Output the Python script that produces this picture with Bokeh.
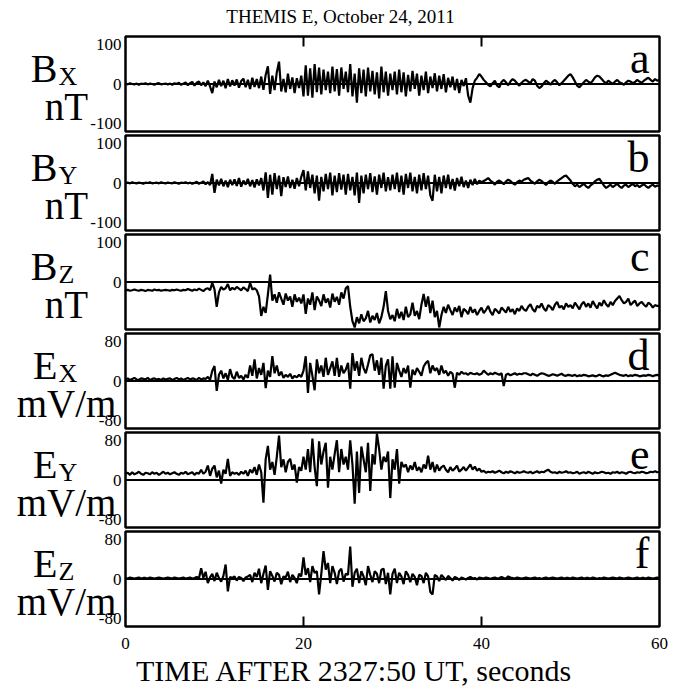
import numpy as np
from bokeh.plotting import figure
from bokeh.layouts import column, row
from bokeh.models import Span, Range1d
from bokeh.core.properties import value
from bokeh.embed import file_html
from bokeh.resources import INLINE

# ---------------- data ----------------
time_s = np.linspace(0, 60, 241)   # 0.25 s samples, seconds after 2327:50 UT

bx = [1, -1, 2, 0, -1, 1, -2, 1, 0, 2, -1, 1, 0, -2, 1, 2, -1, 0, 1, -1,
      1, -2, 2, 0, 3, -2, 1, 4, -3, 2, 5, -4, 3, 6, -3, 4, -5, 8, -6, -22,
      6, -8, 10, -5, 8, -10, 12, -6, 9, -4, 11, -9, 7, 13, -8, 10, -12, 15, -7, 12,
      -10, 18, -14, 22, 43, -24, 20, -15, 28, 54, -18, 12, -20, 25, -12, 16, -22, 14, -10, 20,
      -30, 45, -28, 38, -33, 48, -20, 40, -25, 35, -15, 30, -22, 42, -18, 36, -28, 40, -12, 30,
      -20, 48, -30, 25, -45, 38, -22, 35, -30, 40, -18, 32, -25, 28, -35, 42, -20, 30, -28, 25,
      -15, 30, -25, 35, -20, 28, -30, 22, -18, 32, -12, 25, -28, 20, -15, 30, -22, 18, -10, 26,
      -18, 20, -12, 24, -20, 15, -8, 18, -15, 12, -22, 10, -5, 14, -28, -45, -10, 8, 15, 24,
      18, 10, 4, -2, -6, 2, 8, -4, -8, 5, 10, 4, -3, 6, 12, 8, 2, -4, 3, 8,
      10, 6, 2, 12, 8, -4, -10, -6, 2, 8, 4, -2, 6, 10, 4, -3, 2, 8, 14, 20,
      24, 16, 6, -4, -8, -2, 4, 10, 6, 2, 8, 16, 20, 18, 12, 6, 2, 8, 4, 0,
      6, 10, 4, 2, -2, 4, 8, 6, 2, 5, 10, 6, 3, 8, 12, 15, 10, 6, 12, 8,
      10]

by = [0, 1, -1, 2, 0, -1, 1, 0, -2, 1, 0, 2, -1, 0, 1, -1, 2, 0, -1, 1,
      0, -1, 2, 0, -2, 1, 0, 2, -1, 1, -2, 0, 3, -2, 1, 4, -3, 2, -5, 22,
      -24, 8, -6, 10, -8, 6, -10, 8, -5, 9, -7, 12, -9, 6, -4, 10, -8, 7, -11, 9,
      -6, 12, -18, 26, -36, 20, -28, 24, -15, 18, -32, 14, -10, 16, -12, 8, -14, 12, -8, 15,
      31, -18, 28, -12, 20, -25, 18, -43, 15, -20, 22, -15, 25, -30, 18, -22, 24, -16, 20, -28,
      22, -18, 15, -30, 25, -48, 18, -25, 20, -15, 24, -22, 16, -28, 20, -12, 25, -20, 14, -18,
      20, -15, 25, -22, 18, -28, 22, -12, 25, -20, 15, -25, 20, -18, 24, -15, 18, -30, -43, 20,
      -20, 15, -25, 18, -12, 20, -15, 10, -18, 12, -8, 15, -10, 6, -12, 8, -5, 10, -3, 6,
      2, 5, 8, 12, 6, 2, -4, 3, 6, 2, -3, 4, 8, 5, 0, -4, 2, 6, 3, 8,
      10, 12, 6, 2, -2, 4, 8, 5, 0, -5, 2, 6, 3, -2, 4, 8, 12, 16, 18, 12,
      6, -2, -8, -4, -10, -6, -2, -8, -12, -6, -2, 4, 8, 10, 2, -6, -12, -8, -4, -10,
      -6, -2, -8, -12, -6, -4, -10, -6, -2, -8, -5, -10, -6, -3, -8, -12, -7, -4, -9, -6,
      -8]

bz = [-20, -19, -21, -20, -18, -20, -21, -19, -20, -22, -19, -20, -21, -18, -20, -19, -21, -20, -19, -20,
      -21, -19, -20, -18, -20, -21, -19, -20, -17, -19, -21, -18, -20, -16, -19, -22, -17, -15, -20, -2,
      -18, -60, -25, -12, -18, -15, -5, -20, -14, -18, -12, -16, -20, -13, -17, -22, -2, -18, -15, -20,
      -35, -82, -60, -75, -30, 18, -45, -30, -50, -25, -40, -55, -28, -45, -35, -60, -30, -48, -38, -52,
      -30, -77, -40, -55, -25, -68, -35, -45, -58, -30, -50, -40, -62, -28, -48, -36, -55, -25, -40, -15,
      -10, -60, -95, -110, -85, -100, -78, -95, -88, -70, -98, -82, -92, -75, -100, -85, -60, -22, -70, -90,
      -80, -95, -65, -88, -72, -92, -60, -85, -78, -50, -82, -70, -90, -55, -29, -60, -35, -75, -45, -85,
      -70, -110, -80, -60, -75, -55, -68, -80, -62, -72, -58, -85, -65, -70, -78, -60, -74, -66, -80, -70,
      -62, -75, -68, -58, -72, -80, -65, -70, -76, -62, -68, -74, -60, -72, -66, -78, -64, -70, -58, -66,
      -70, -60, -54, -66, -72, -58, -62, -52, -64, -70, -56, -60, -68, -55, -48, -62, -58, -66, -52, -60,
      -56, -64, -50, -58, -66, -54, -48, -60, -52, -62, -46, -56, -64, -50, -58, -44, -54, -60, -48, -56,
      -46, -40, -34, -44, -52, -48, -40, -56, -50, -45, -58, -52, -48, -55, -60, -50, -54, -62, -56, -58,
      -58]

ex = [3, 5, 2, 4, 6, 3, 2, 5, 4, 3, 6, 2, 4, 5, 3, 4, 2, 5, 3, 4,
      5, 2, 4, 6, 3, 5, 2, 4, 6, 3, 5, 4, 2, 6, 3, 5, 4, 8, 2, 20,
      29, -19, 12, 20, 5, 15, 2, 23, 8, 4, 18, 6, 10, 3, 12, 6, 30, 10, 42, 5,
      25, 12, 35, -14, 20, 8, 48, 15, 30, 10, 18, 6, 12, 8, 14, 5, 10, 7, 12, 8,
      20, 48, -23, 35, 10, -18, 42, 15, 30, 8, 45, 12, 25, 38, 10, 45, 8, 30, 15, 22,
      35, -15, 54, 20, 38, 10, 45, 25, 15, 32, 50, 52, 20, 40, 12, 45, -15, 30, 42, -15,
      48, -13, 35, 20, 8, 25, 15, 30, -13, 22, 12, 25, 18, 10, 28, 35, 39, 15, 30, 20,
      25, 12, 30, 15, 20, 10, 18, 14, -13, 16, 12, 18, 14, 15, 12, 16, 14, 13, 15, 12,
      14, 20, 16, 12, 15, 13, 16, 14, 12, 15, -10, 12, 14, 11, 13, 15, 12, 14, 13, 15,
      15, 13, 11, 14, 12, 10, 13, 15, 14, 12, 10, 11, 13, 12, 10, 12, 14, 11, 10, 12,
      11, 10, 12, 9, 11, 10, 12, 11, 9, 10, 11, 9, 10, 12, 10, 9, 11, 10, 12, 14,
      16, 14, 12, 11, 10, 12, 9, 11, 10, 12, 11, 9, 10, 11, 10, 12, 11, 9, 11, 12,
      10]

ey = [12, 14, 10, 15, 11, 13, 16, 12, 10, 14, 13, 11, 15, 12, 14, 10, 13, 16, 12, 14,
      11, 13, 15, 12, 10, 14, 12, 16, 11, 13, 15, 10, 14, 12, 20, 12, 16, 28, 8, 22,
      28, 5, 18, -7, 20, 12, 41, 8, 15, 12, 14, 10, 16, 12, 18, 8, 20, 14, 25, 10,
      30, 15, -44, 40, 66, 20, 35, 10, 45, 86, 25, 40, 15, 35, 41, 20, 30, -5, 25, 18,
      45, 20, 60, 15, 80, 25, -12, 75, 30, 55, 72, -15, 45, 20, 50, 77, 15, 60, 30, 45,
      20, 77, 30, -46, 55, -25, 65, 40, 15, 72, -21, 50, 30, 90, 60, 20, 45, 35, 55, -35,
      40, 20, 60, -7, 35, 25, 30, 15, 28, 20, 35, 18, 25, 15, 30, 22, 47, 20, 35, 15,
      30, 18, 25, 28, 20, 15, 25, 18, 22, 28, 16, 20, 25, 18, 24, 30, 20, 26, 18, 22,
      16, 18, 14, 16, 15, 17, 14, 16, 18, 15, 13, 16, 14, 17, 15, 13, 16, 14, 15, 17,
      15, 14, 16, 13, 15, 17, 14, 16, 15, 18, 20, 16, 14, 15, 13, 16, 14, 15, 17, 14,
      15, 13, 14, 16, 12, 14, 15, 13, 16, 14, 12, 15, 13, 14, 16, 15, 13, 14, 12, 15,
      14, 16, 13, 15, 14, 12, 15, 16, 14, 13, 15, 14, 16, 15, 13, 14, 16, 15, 17, 15,
      16]

ez = [2, 1, 3, 2, 1, 2, 3, 1, 2, 2, 1, 3, 2, 1, 2, 3, 2, 1, 2, 3,
      2, 1, 3, 2, 1, 2, 3, 1, 2, 3, 1, 2, 4, 1, 21, 2, 14, -8, 3, 10,
      -4, 12, 2, -5, 6, 28, -24, 4, 2, 5, -3, 4, 2, -4, 3, 5, 8, -6, 12, 4,
      20, -8, 10, 26, -21, 15, 6, -5, 12, 8, -10, 5, 3, 14, -6, 8, 2, -8, 10, 5,
      42, 8, 21, -6, 25, 12, 15, -30, 10, 54, 18, 31, -8, 25, 12, -10, 15, 20, -5, 10,
      8, 63, -15, 12, 20, -8, 15, 5, -12, 25, 8, -6, 15, 10, -8, 18, 20, -10, 12, -30,
      10, 20, -8, 12, 5, -10, 15, 8, -6, 10, 4, -12, 8, 6, -8, 12, 5, -25, -30, 8,
      5, -4, 8, 3, -2, 6, 2, -3, 4, 2, -2, 3, 1, -1, 2, 4, 1, 2, -1, 3,
      2, 1, 3, 2, 0, 2, 3, 1, 2, 4, 2, 1, 5, 3, 2, 1, 3, 2, 1, 2,
      3, 2, 1, 2, 3, 1, 2, 0, 2, 3, 1, 2, 3, 2, 1, 2, 3, 1, 2, 2,
      1, 3, 2, 1, 2, 3, 1, 2, 2, 1, 3, 2, 0, 2, 1, 3, 2, 1, 2, 3,
      2, 1, 3, 2, 1, 2, 3, 2, 1, 2, 3, 1, 2, 2, 1, 3, 2, 1, 2, 3,
      2]

b_ticks = [-100, 0, 100]
bz_ticks = [0, 100]
e_ticks = [-80, 0, 80]
x_ticks = [0, 20, 40, 60]
panel_letters = ["a", "b", "c", "d", "e", "f"]
components = ["B", "B", "B", "E", "E", "E"]
subscripts = ["X", "Y", "Z", "X", "Y", "Z"]
units = ["nT", "nT", "nT", "mV/m", "mV/m", "mV/m"]
series = [bx, by, bz, ex, ey, ez]
tick_sets = [b_ticks, b_ticks, bz_ticks, e_ticks, e_ticks, e_ticks]
limits = [115, 115, 115, 92, 92, 92]
title_text = "THEMIS E, October 24, 2011"
xlabel_text = "TIME AFTER 2327:50 UT, seconds"

# ---------------- layout (page pixels) ----------------
FONT = "Liberation Serif"
BASE_SHIFT = 0.34      # rendered alphabetic baseline sits this many em below the anchor
LABEL_W = 123
PANEL_BL = 2
FW = 534
PANEL_BR = 12
PANEL_W = PANEL_BL + FW + PANEL_BR
TOTAL_W = LABEL_W + PANEL_W
FH = 95
ROW_H = 99
TITLE_H = 34
XLAB_H = 60
row_top = [TITLE_H + k * ROW_H for k in range(6)]
frame_top = [r + 2 for r in row_top]
FRAME_LEFT = LABEL_W + PANEL_BL
XLAB_TOP = TITLE_H + 6 * ROW_H
SEC_PER_PX = 60.0 / FW


def yd(py, k):
    lim = limits[k]
    return lim - (py - frame_top[k]) / FH * (2 * lim)


def blank(width, height, xr, yr):
    f = figure(width=width, height=height, x_range=xr, y_range=yr,
               output_backend="svg", toolbar_location=None,
               x_axis_location=None, y_axis_location=None,
               min_border=0, min_border_left=0, min_border_right=0,
               min_border_top=0, min_border_bottom=0)
    f.grid.visible = False
    f.outline_line_color = None
    f.background_fill_color = "white"
    f.border_fill_color = "white"
    return f


def txt(f, x, page_baseline, conv, s, size, align):
    y = conv(page_baseline - BASE_SHIFT * size)
    f.text(x=[x], y=[y], text=[s], text_font=value(FONT), text_font_size=value(f"{size}px"),
           text_align=align, text_baseline="alphabetic", text_color="black")


def txt_mid(f, x, y, s, size, align):
    f.text(x=[x], y=[y], text=[s], text_font=value(FONT), text_font_size=value(f"{size}px"),
           text_align=align, text_baseline="middle", text_color="black")


# title strip (pixel coordinates, y downward)
title_fig = blank(TOTAL_W, TITLE_H, Range1d(0, TOTAL_W), Range1d(TITLE_H, 0))
txt(title_fig, 340, 22, lambda py: py, title_text, 19, "center")

rows = []
for k in range(6):
    lim = limits[k]
    upp = 2 * lim / FH
    T = frame_top[k]
    conv = (lambda kk: (lambda py: yd(py, kk)))(k)

    lf = blank(LABEL_W, ROW_H, Range1d(0, LABEL_W),
               Range1d(yd(row_top[k] + ROW_H, k), yd(row_top[k], k)))
    for tk in tick_sets[k]:
        txt_mid(lf, 121, tk, str(tk), 17, "right")
    txt(lf, 57, T + 45, conv, components[k], 40, "right")
    txt(lf, 58, T + 49, conv, subscripts[k], 26, "left")
    txt(lf, 66, T + 84, conv, units[k], 39, "center")

    p = figure(width=PANEL_W, height=ROW_H, x_range=Range1d(0, 60), y_range=Range1d(-lim, lim),
               output_backend="svg", toolbar_location=None,
               x_axis_location=None, y_axis_location=None,
               min_border_left=PANEL_BL, min_border_right=PANEL_BR,
               min_border_top=2, min_border_bottom=2)
    p.grid.visible = False
    p.background_fill_color = "white"
    p.border_fill_color = "white"
    p.outline_line_color = "black"
    p.outline_line_width = 2.5
    p.outline_line_alpha = 1.0

    p.add_layout(Span(location=0, dimension="width", line_color="black", line_width=2))
    p.line(time_s, series[k], line_color="black", line_width=2.2)

    inner = [t for t in x_ticks if 0 < t < 60]
    tick_len = 10 * upp
    if k == 0:
        p.segment(x0=inner, y0=[lim] * len(inner), x1=inner, y1=[lim - tick_len] * len(inner),
                  line_color="black", line_width=2)
    if k == 5:
        p.segment(x0=inner, y0=[-lim] * len(inner), x1=inner, y1=[-lim + tick_len] * len(inner),
                  line_color="black", line_width=2)

    txt(p, 60 - 10 * SEC_PER_PX, T + 37, conv, panel_letters[k], 44, "right")
    rows.append(row(lf, p, spacing=0))

# bottom strip: x in seconds (aligned with panels), y in pixels downward from strip top
x0_sec = -FRAME_LEFT * SEC_PER_PX
x1_sec = (TOTAL_W - FRAME_LEFT) * SEC_PER_PX
xl_fig = blank(TOTAL_W, XLAB_H, Range1d(x0_sec, x1_sec), Range1d(XLAB_H, 0))
for t in x_ticks:
    txt_mid(xl_fig, t, 15, str(t), 17, "center")
txt(xl_fig, (354 - FRAME_LEFT) * SEC_PER_PX, 680, lambda py: py - XLAB_TOP,
    xlabel_text, 30, "center")

layout = column(title_fig, *rows, xl_fig, spacing=0)
open("out.html", "w").write(file_html(layout, INLINE))
